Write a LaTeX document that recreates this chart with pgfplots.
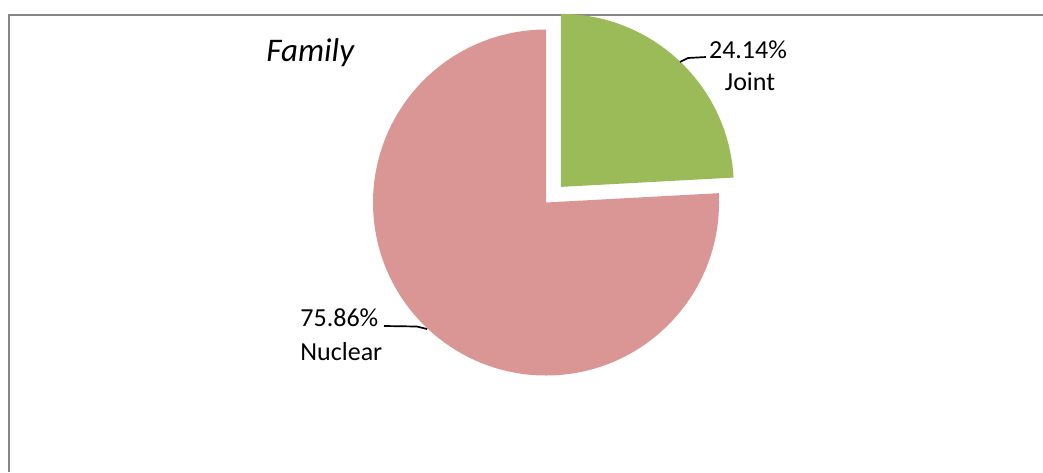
\documentclass[border=0pt]{standalone}
\usepackage{fontspec}
\setmainfont{Carlito}
\usepackage{pgfplots}
\usepackage{pgfplotstable}
\pgfplotsset{compat=1.18}
\definecolor{nuclear}{HTML}{D99694}
\definecolor{joint}{HTML}{9BBB59}
\definecolor{frame}{HTML}{878787}

% share of families (percent)
\pgfplotstableread{
label   value
Joint   24.14
Nuclear 75.86
}\familydata
\pgfplotstablegetelem{0}{value}\of\familydata \let\vJoint\pgfplotsretval
\pgfplotstablegetelem{1}{value}\of\familydata \let\vNuclear\pgfplotsretval
\pgfmathsetmacro{\aSplit}{90-3.6*\vJoint}      % end of joint slice
\pgfmathsetmacro{\aEnd}{\aSplit-3.6*\vNuclear} % end of nuclear slice
\pgfmathsetmacro{\aMid}{(90+\aSplit)/2}        % explode direction
\def\R{86.5pt}
\newcommand{\pct}[1]{\pgfmathprintnumber[fixed,precision=2,fixed zerofill,assume math mode=true]{#1}\%}

\begin{document}
\begin{tikzpicture}
\useasboundingbox (0,0) rectangle (521.5pt,236pt);
\begin{axis}[at={(0,0)},anchor=south west,width=521.5pt,height=236pt,scale only axis,
  xmin=0,xmax=1043,ymin=0,ymax=472,y dir=reverse,hide axis,clip=false]
% frame (top and left edges only)
\draw[frame,line width=1pt] (axis cs:9,472) -- (axis cs:9,15) -- (axis cs:1043,15);
% slices
\fill[nuclear] (axis cs:546,202.5) -- ++(\aSplit:\R) arc[start angle=\aSplit,end angle=\aEnd,radius=\R] -- cycle;
\fill[joint] (axis cs:546,202.5) ++(\aMid:10.75pt) -- ++(90:\R) arc[start angle=90,end angle=\aSplit,radius=\R] -- cycle;
% leaders
\draw[line width=0.85pt] (axis cs:680,62) -- (axis cs:688,58) -- (axis cs:706,57);
\draw[line width=0.85pt] (axis cs:384,326) -- (axis cs:417,326.5) -- (axis cs:427,329);
% labels
\node[anchor=base,font=\fontsize{13}{15.6}\selectfont] at (axis cs:748,58) {\pct{\vJoint}};
\node[anchor=base,font=\fontsize{13}{15.6}\selectfont] at (axis cs:750,90) {Joint};
\node[anchor=base west,font=\fontsize{13}{15.6}\selectfont,inner sep=0pt] at (axis cs:300,326.5) {\pct{\vNuclear}};
\node[anchor=base west,font=\fontsize{13}{15.6}\selectfont,inner sep=0pt] at (axis cs:300,360) {Nuclear};
\node[anchor=base west,font=\fontsize{16.5}{20}\selectfont\itshape,inner sep=0pt] at (axis cs:266,61) {Family};
\end{axis}
\end{tikzpicture}
\end{document}
